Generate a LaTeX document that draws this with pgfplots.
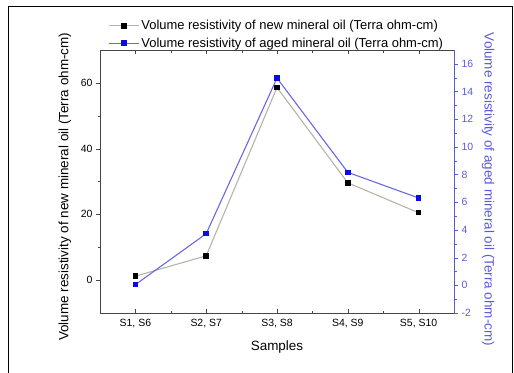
\documentclass[border=0pt]{standalone}
\usepackage{fontspec}
\setmainfont{Liberation Sans}
\usepackage{pgfplots}
\pgfplotsset{compat=1.18}
\definecolor{newline}{RGB}{180,180,168}
\definecolor{agedline}{RGB}{105,105,225}
\definecolor{agedmark}{RGB}{10,10,230}
\definecolor{raxis}{RGB}{90,90,215}
\definecolor{axgray}{RGB}{70,70,70}
\pgfplotsset{
  common/.style={
    at={(100bp,60bp)}, anchor=south west, scale only axis,
    width=354bp, height=263bp,
    xmin=-0.5, xmax=4.5,
    /pgf/number format/assume math mode=true,
    tick label style={font=\fontsize{10.5}{12}\selectfont},
    label style={font=\fontsize{13.5}{15}\selectfont},
    tick align=outside,
    major tick length=4bp, minor tick length=2.5bp,
    legend image code/.code={
      \draw[#1,mark=none] (0bp,0bp) -- (30bp,0bp);
      \draw[#1,only marks] plot coordinates {(15bp,0bp)};
    },
  },
}
\begin{document}
\begin{tikzpicture}
\path[use as bounding box] (0,0) rectangle (514bp,373bp);
\draw[line width=1.5bp] (8.5bp,0) -- (8.5bp,366.5bp) -- (512.5bp,366.5bp) -- (512.5bp,0);
% x axis (ticks inward, top and bottom)
\begin{axis}[common,
  ymin=-10, ymax=70,
  tick align=inside,
  axis y line=none,
  xtick={0,1,2,3,4},
  xticklabels={{S1, S6},{S2, S7},{S3, S8},{S4, S9},{S5, S10}},
  xticklabel style={yshift=-3bp},
  minor x tick num=1,
  axis line style={axgray, line width=0.8bp},
  tick style={axgray},
  xlabel={Samples},
  xlabel style={at={(axis description cs:0.5,-0.13)}, anchor=center},
]
\end{axis}
% left y axis with new mineral oil data
\begin{axis}[common,
  ymin=-10, ymax=70,
  axis y line*=left,
  axis x line=none,
  ytick={0,20,40,60},
  minor y tick num=1,
  axis line style={axgray, line width=0.8bp},
  tick style={axgray},
  ylabel={Volume resistivity of new mineral oil (Terra ohm-cm)},
  ylabel style={at={(axis description cs:-0.099,0.48)}, anchor=center, rotate=0},
]
\addplot[newline, line width=1.1bp, mark=square*, mark size=2.2bp, mark options={draw=black, fill=black}]
  coordinates {(0,1.2) (1,7.4) (2,58.6) (3,29.6) (4,20.5)};
\end{axis}
% right y axis with aged mineral oil data
\begin{axis}[common,
  ymin=-2, ymax=17,
  axis y line*=right,
  axis x line=none,
  ytick={-2,0,2,4,6,8,10,12,14,16},
  minor y tick num=1,
  y axis line style={raxis, line width=0.8bp},
  y tick style={raxis},
  yticklabel style={raxis},
  ylabel={Volume resistivity of aged mineral oil (Terra ohm-cm)},
  ylabel style={at={(axis description cs:1.096,0.47)}, anchor=center, rotate=180, raxis},
  legend style={at={(0.02,1.125)}, anchor=north west, draw=none, fill=none,
    font=\fontsize{13}{14}\selectfont, row sep=2.5bp, inner sep=1bp},
  legend cell align=left,
]
\addlegendimage{newline, line width=1.1bp, mark=square*, mark size=2.2bp, mark options={draw=black, fill=black}}
\addlegendentry{Volume resistivity of new mineral oil (Terra ohm-cm)}
\addplot[agedline, line width=1.1bp, mark=square*, mark size=2.2bp, mark options={draw=agedmark, fill=agedmark}]
  coordinates {(0,0.05) (1,3.73) (2,14.97) (3,8.16) (4,6.31)};
\addlegendentry{Volume resistivity of aged mineral oil (Terra ohm-cm)}
\end{axis}
\end{tikzpicture}
\end{document}
